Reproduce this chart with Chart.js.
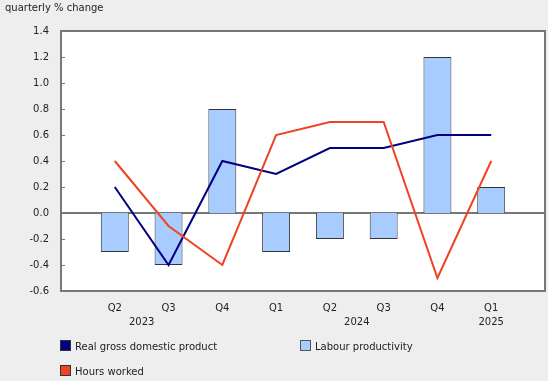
<!DOCTYPE html>
<html>
<head>
<meta charset="utf-8">
<script src="https://cdn.jsdelivr.net/npm/chart.js@4"></script>
<style>
  html, body { margin: 0; padding: 0; background: #eeeeee; }
  #wrap { position: relative; width: 548px; height: 381px; font-family: "DejaVu Sans", Verdana, sans-serif; }
  #title { position: absolute; left: 5px; top: 2px; font-size: 10px; color: #222; }
  .leg { position: absolute; font-size: 10px; color: #222; white-space: nowrap; }
  .leg span.box { display: inline-block; width: 9px; height: 9px; border: 1px solid #333; vertical-align: -1px; margin-right: 4px; }
</style>
</head>
<body>
<div id="wrap">
  <canvas id="chart" width="548" height="381"></canvas>
  <div id="title">quarterly % change</div>
  <div id="legend"></div>
</div>
<script>
// données
const quarters = ['Q2', 'Q3', 'Q4', 'Q1', 'Q2', 'Q3', 'Q4', 'Q1'];
const years = [
  { text: '2023', from: 0, to: 1 },
  { text: '2024', from: 4, to: 5 },
  { text: '2025', from: 7, to: 7 }
];
const gdp          = [0.2, -0.4, 0.4, 0.3, 0.5, 0.5, 0.6, 0.6];
const hoursWorked  = [0.4, -0.1, -0.4, 0.6, 0.7, 0.7, -0.5, 0.4];
const productivity = [-0.3, -0.4, 0.8, -0.3, -0.2, -0.2, 1.2, 0.2];
const yTicks = [1.4, 1.2, 1.0, 0.8, 0.6, 0.4, 0.2, 0.0, -0.2, -0.4, -0.6];

const pad = arr => [null, ...arr, null];
const AXIS = '#777777';

// cadre, ligne du zéro, petites graduations, années
const framePlugin = {
  id: 'frame',
  beforeDraw(chart) {
    const { ctx, chartArea: a } = chart;
    ctx.save();
    ctx.fillStyle = '#ffffff';
    ctx.fillRect(a.left, a.top, a.right - a.left, a.bottom - a.top);
    ctx.restore();
  },
  beforeDatasetsDraw(chart) {
    const { ctx, chartArea: a, scales } = chart;
    const y0 = scales.y.getPixelForValue(0);
    ctx.save();
    ctx.strokeStyle = AXIS;
    ctx.lineWidth = 2;
    ctx.beginPath();
    ctx.moveTo(a.left, y0);
    ctx.lineTo(a.right, y0);
    ctx.stroke();
    ctx.restore();
  },
  afterDraw(chart) {
    const { ctx, chartArea: a, scales } = chart;
    ctx.save();
    ctx.strokeStyle = AXIS;
    ctx.lineWidth = 2;
    ctx.strokeRect(a.left, a.top, a.right - a.left, a.bottom - a.top);
    ctx.lineWidth = 1;
    yTicks.forEach(v => {
      const y = Math.round(scales.y.getPixelForValue(v)) + 0.5;
      ctx.beginPath();
      ctx.moveTo(a.left, y);
      ctx.lineTo(a.left + 4, y);
      ctx.stroke();
    });
    ctx.fillStyle = '#222';
    ctx.font = '10px "DejaVu Sans", Verdana, sans-serif';
    ctx.textAlign = 'center';
    ctx.textBaseline = 'middle';
    years.forEach(yr => {
      const x = (scales.x.getPixelForValue(yr.from + 1) + scales.x.getPixelForValue(yr.to + 1)) / 2;
      ctx.fillText(yr.text, x, a.bottom + 31);
    });
    ctx.restore();
  }
};

const chart = new Chart(document.getElementById('chart'), {
  type: 'bar',
  data: {
    labels: ['', ...quarters, ''],
    datasets: [
      {
        type: 'line',
        label: 'Real gross domestic product',
        data: pad(gdp),
        borderColor: '#000080',
        backgroundColor: '#000080',
        borderWidth: 2,
        pointRadius: 0,
        tension: 0,
        order: 1
      },
      {
        type: 'line',
        label: 'Hours worked',
        data: pad(hoursWorked),
        borderColor: '#ee4422',
        backgroundColor: '#ee4422',
        borderWidth: 2,
        pointRadius: 0,
        tension: 0,
        order: 0
      },
      {
        type: 'bar',
        label: 'Labour productivity',
        data: pad(productivity),
        backgroundColor: '#a8ccff',
        borderColor: '#333333',
        borderWidth: 1,
        barPercentage: 0.52,
        categoryPercentage: 1,
        order: 2
      }
    ]
  },
  options: {
    responsive: false,
    animation: false,
    layout: { padding: { top: 31, right: -4, left: 0, bottom: 0 } },
    plugins: {
      legend: { display: false },
      tooltip: { enabled: false }
    },
    scales: {
      x: {
        offset: false,
        grid: { display: false },
        border: { display: false },
        ticks: {
          color: '#222',
          font: { family: '"DejaVu Sans", Verdana, sans-serif', size: 10 },
          padding: 3,
          maxRotation: 0,
          autoSkip: false
        },
        afterFit(scale) { scale.height = 90; }
      },
      y: {
        min: -0.6,
        max: 1.4,
        grid: { display: false },
        border: { display: false },
        afterBuildTicks(scale) { scale.ticks = yTicks.map(v => ({ value: v })); },
        ticks: {
          color: '#222',
          font: { family: '"DejaVu Sans", Verdana, sans-serif', size: 10 },
          padding: 4,
          callback: v => v.toFixed(1)
        },
        afterFit(scale) { scale.width = 61; }
      }
    }
  },
  plugins: [framePlugin]
});

// légende HTML construite à partir des séries
const legendPos = {
  'Real gross domestic product': [60, 340],
  'Labour productivity': [300, 340],
  'Hours worked': [60, 365]
};
const legendEl = document.getElementById('legend');
chart.data.datasets.forEach(ds => {
  const [x, y] = legendPos[ds.label];
  const div = document.createElement('div');
  div.className = 'leg';
  div.style.left = x + 'px';
  div.style.top = y + 'px';
  const box = document.createElement('span');
  box.className = 'box';
  box.style.background = ds.backgroundColor;
  if (ds.type === 'bar') box.style.borderColor = '#555';
  div.appendChild(box);
  div.appendChild(document.createTextNode(ds.label));
  legendEl.appendChild(div);
});
</script>
</body>
</html>
